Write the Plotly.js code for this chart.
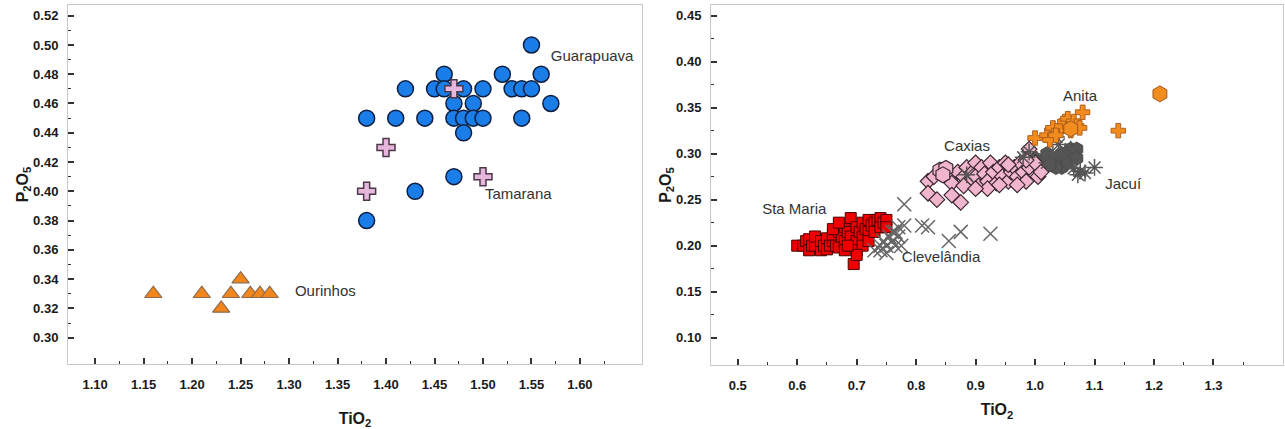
<!DOCTYPE html>
<html><head><meta charset="utf-8">
<script src="https://cdn.plot.ly/plotly-3.0.1.min.js"></script>
<style>html,body{margin:0;padding:0;background:#fff}#chart{width:1285px;height:429px}</style>
</head><body><div id="chart"></div>
<script>
// ---------- Left panel data ----------
const guaTiO2 = [1.55, 1.46,1.52,1.56, 1.42,1.45,1.46,1.48,1.50,1.53,1.54,1.55, 1.47,1.49,1.57, 1.38,1.41,1.44,1.47,1.48,1.49,1.50,1.54, 1.48, 1.47, 1.43, 1.38];
const guaP2O5 = [0.50, 0.48,0.48,0.48, 0.47,0.47,0.47,0.47,0.47,0.47,0.47,0.47, 0.46,0.46,0.46, 0.45,0.45,0.45,0.45,0.45,0.45,0.45,0.45, 0.44, 0.41, 0.40, 0.38];
const tamTiO2 = [1.47, 1.40, 1.50, 1.38];
const tamP2O5 = [0.47, 0.43, 0.41, 0.40];
const ouriTiO2 = [1.16, 1.21, 1.23, 1.24, 1.25, 1.26, 1.27, 1.28];
const ouriP2O5 = [0.33, 0.33, 0.32, 0.33, 0.34, 0.33, 0.33, 0.33];

// ---------- Right panel data ----------
const smTiO2 = [0.60,0.61,0.615,0.62,0.62,0.625,0.63,0.63,0.64,0.64,0.645,0.65,0.65,0.655,0.66,0.66,0.665,0.67,0.67,0.675,0.68,0.68,0.68,0.685,0.69,0.69,0.69,0.695,0.70,0.70,0.70,0.705,0.71,0.71,0.71,0.715,0.72,0.72,0.72,0.725,0.73,0.73,0.735,0.74,0.74,0.745,0.75,0.75,0.66,0.67,0.70,0.685];
const smP2O5 = [0.200,0.200,0.205,0.195,0.207,0.200,0.200,0.210,0.195,0.205,0.200,0.208,0.196,0.200,0.205,0.212,0.200,0.215,0.198,0.210,0.220,0.205,0.195,0.215,0.230,0.200,0.210,0.180,0.220,0.205,0.195,0.215,0.225,0.210,0.200,0.218,0.228,0.215,0.205,0.222,0.225,0.215,0.228,0.230,0.220,0.225,0.228,0.220,0.218,0.225,0.190,0.200];
const clTiO2 = [0.78,0.78,0.81,0.82,0.855,0.875,0.925,0.73,0.74,0.745,0.75,0.755,0.76,0.765,0.77,0.765,0.775,0.75,0.74,0.76,0.77];
const clP2O5 = [0.245,0.222,0.222,0.220,0.205,0.215,0.213,0.195,0.200,0.205,0.200,0.210,0.205,0.200,0.210,0.215,0.200,0.192,0.195,0.215,0.220];
const cxTiO2 = [0.82,0.82,0.83,0.835,0.86,0.86,0.875,0.87,0.88,0.885,0.89,0.895,0.90,0.90,0.905,0.91,0.915,0.92,0.925,0.93,0.935,0.94,0.945,0.95,0.955,0.96,0.965,0.97,0.975,0.98,0.985,0.99,0.99,1.00,1.005,1.01,0.88,0.92,0.94,0.97,0.90,0.955,0.985];
const cxP2O5 = [0.270,0.257,0.275,0.250,0.268,0.255,0.247,0.280,0.275,0.285,0.270,0.280,0.290,0.275,0.265,0.285,0.278,0.270,0.290,0.280,0.268,0.285,0.275,0.290,0.270,0.280,0.285,0.275,0.290,0.280,0.270,0.285,0.305,0.290,0.275,0.280,0.265,0.262,0.266,0.266,0.262,0.288,0.293];
const cxHexTiO2 = [0.84, 0.85, 0.845];
const cxHexP2O5 = [0.282, 0.284, 0.277];
const jaHexTiO2 = [1.00,1.01,1.02,1.035,1.04,1.045,1.05,1.06,1.065,1.07,1.035,1.055,1.045,1.07,1.025];
const jaHexP2O5 = [0.295,0.290,0.300,0.295,0.290,0.285,0.300,0.305,0.300,0.305,0.285,0.290,0.300,0.295,0.288];
const jaAstTiO2 = [0.885,0.98,0.99,1.036,1.04,1.072,1.084,1.10,1.076,1.05,1.02,1.06,1.03,1.065];
const jaAstP2O5 = [0.277,0.296,0.302,0.318,0.310,0.277,0.279,0.285,0.281,0.298,0.290,0.305,0.300,0.284];
const anTiO2 = [1.00,1.02,1.025,1.03,1.04,1.045,1.05,1.055,1.06,1.065,1.07,1.075,1.08,1.14,1.035];
const anP2O5 = [0.317,0.320,0.315,0.328,0.325,0.330,0.335,0.338,0.325,0.335,0.330,0.328,0.345,0.325,0.320];
const anHexTiO2 = [1.06, 1.21];
const anHexP2O5 = [0.327, 0.365];

// ---------- Group names ----------
const leftNames = ['Guarapuava', 'Tamarana', 'Ourinhos'];
const rightNames = ['Sta Maria', 'Clevelândia', 'Caxias', 'Jacuí', 'Anita'];

// ---------- Tick labels ----------
const lxTicks = [1.10,1.15,1.20,1.25,1.30,1.35,1.40,1.45,1.50,1.55,1.60];
const lxLabels = ['1.10','1.15','1.20','1.25','1.30','1.35','1.40','1.45','1.50','1.55','1.60'];
const lxMinor = [1.125,1.175,1.225,1.275,1.325,1.375,1.425,1.475,1.525,1.575,1.625];
const lyTicks = [0.30,0.32,0.34,0.36,0.38,0.40,0.42,0.44,0.46,0.48,0.50,0.52];
const lyLabels = ['0.30','0.32','0.34','0.36','0.38','0.40','0.42','0.44','0.46','0.48','0.50','0.52'];
const lyMinor = [0.31,0.33,0.35,0.37,0.39,0.41,0.43,0.45,0.47,0.49,0.51];
const rxTicks = [0.5,0.6,0.7,0.8,0.9,1.0,1.1,1.2,1.3];
const rxLabels = ['0.5','0.6','0.7','0.8','0.9','1.0','1.1','1.2','1.3'];
const rxMinor = [0.55,0.65,0.75,0.85,0.95,1.05,1.15,1.25,1.35];
const ryTicks = [0.10,0.15,0.20,0.25,0.30,0.35,0.40,0.45];
const ryLabels = ['0.10','0.15','0.20','0.25','0.30','0.35','0.40','0.45'];
const ryMinor = [0.125,0.175,0.225,0.275,0.325,0.375,0.425];

// label anchor positions (layout, not data)
const leftLabelPos = {x:[1.570, 1.502, 1.306], y:[0.4918, 0.3975, 0.3312]};
const rightLabelPos = {x:[0.541, 0.776, 0.847, 1.118, 1.047], y:[0.2387, 0.1866, 0.3073, 0.266, 0.3616]};

const FONT = 'Liberation Sans, Arial, sans-serif';
const W = 1285, H = 429;
const NB = '\u00A0';

function sc(x, y, xa, ya, symbol, size, fill, lineColor, lw) {
  return {type:'scatter', mode:'markers', x:x, y:y, xaxis:xa, yaxis:ya, hoverinfo:'skip',
    marker:{symbol:symbol, size:size, color:fill, line:{color:lineColor, width:lw}}};
}
const labFont = {family:FONT, size:15, color:'#333'};
function labels(pos, names, xa, ya) {
  return {type:'scatter', mode:'text', x:pos.x, y:pos.y, text:names, xaxis:xa, yaxis:ya,
    textposition:'middle right', textfont:labFont, hoverinfo:'skip', cliponaxis:false};
}

const traces = [
  sc(ouriTiO2, ouriP2O5, 'x', 'y', 'triangle-up', 15, '#f0861c', '#8c6a4e', 1.2),
  sc(guaTiO2, guaP2O5, 'x', 'y', 'circle', 16, '#1a7de8', '#0d1f40', 1.5),
  sc(tamTiO2, tamP2O5, 'x', 'y', 'cross', 15, '#e6b6dc', '#4a3848', 1.5),

  sc(smTiO2, smP2O5, 'x2', 'y2', 'square', 11, '#ee0000', '#4a0000', 1),
  {type:'scatter', mode:'markers', x:clTiO2, y:clP2O5, xaxis:'x2', yaxis:'y2', hoverinfo:'skip',
    marker:{symbol:'x-thin-open', size:14, color:'#666', line:{color:'#666', width:1.5}}},
  sc(jaHexTiO2, jaHexP2O5, 'x2', 'y2', 'hexagon', 14, '#555555', '#4a4a4a', 1),
  sc(cxTiO2, cxP2O5, 'x2', 'y2', 'diamond', 12, '#f2b6cc', '#3a2630', 1.2),
  sc(cxHexTiO2, cxHexP2O5, 'x2', 'y2', 'hexagon', 16, '#f2b6cc', '#3a2630', 1.2),
  {type:'scatter', mode:'markers', x:jaAstTiO2, y:jaAstP2O5, xaxis:'x2', yaxis:'y2', hoverinfo:'skip',
    marker:{symbol:'asterisk-open', size:14, color:'#555', line:{color:'#555', width:1.5}}},
  sc(anTiO2, anP2O5, 'x2', 'y2', 'cross', 12, '#f28c1e', '#b0601e', 1),
  sc(anHexTiO2, anHexP2O5, 'x2', 'y2', 'hexagon', 16, '#f28c1e', '#a0581a', 1),

  labels(leftLabelPos, leftNames, 'x', 'y'),
  labels(rightLabelPos, rightNames, 'x2', 'y2')
];

const tickFont = {family:FONT, size:13, color:'#1a1a1a', weight:'bold'};
const titleFont = {family:FONT, size:16, color:'#1a1a1a', weight:'bold'};
function axis(dom, anchor, range, tv, tt, minorVals, standoff, title, tStandoff) {
  return {domain:dom, anchor:anchor, range:range, autorange:false, tickmode:'array', tickvals:tv, ticktext:tt,
    ticks:'inside', ticklen:6, tickwidth:1.5, tickcolor:'#333', tickfont:tickFont,
    showline:true, mirror:true, linecolor:'#c8c8c8', linewidth:1, showgrid:false, zeroline:false,
    automargin:false, ticklabelstandoff:standoff,
    title:{text:title, font:titleFont, standoff:tStandoff},
    minor:{tickmode:'array', tickvals:minorVals, ticks:'inside', ticklen:3, tickwidth:1.2, tickcolor:'#333', showgrid:false}};
}

const layout = {
  width:W, height:H, margin:{l:0, r:0, t:0, b:0}, paper_bgcolor:'#fff', plot_bgcolor:'#fff', showlegend:false,
  font:{family:FONT, size:15, color:'#333'},
  xaxis: axis([68/W, 642/W], 'y', [1.072, 1.664], lxTicks, lxLabels, lxMinor, 8,
              'TiO<sub>2</sub>' + NB.repeat(13), 23),
  yaxis: axis([65/H, 424/H], 'x', [0.282, 0.5273], lyTicks, lyLabels, lyMinor, 6,
              NB.repeat(8) + 'P<sub>2</sub>O<sub>5</sub>', 0),
  xaxis2: axis([711/W, 1283/W], 'y2', [0.455, 1.417], rxTicks, rxLabels, rxMinor, 8,
              'TiO<sub>2</sub>', 12),
  yaxis2: axis([64/H, 424/H], 'x2', [0.0703, 0.4616], ryTicks, ryLabels, ryMinor, 6,
              NB.repeat(3) + 'P<sub>2</sub>O<sub>5</sub>', 0)
};

Plotly.newPlot('chart', traces, layout, {displayModeBar:false});
</script></body></html>
